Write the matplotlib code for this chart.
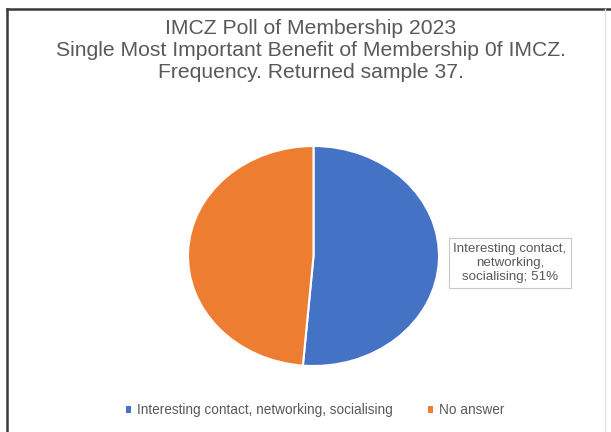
import matplotlib.pyplot as plt
from matplotlib.lines import Line2D
from matplotlib.patches import Patch

plt.rcParams['font.family'] = ['Liberation Sans', 'DejaVu Sans']

# Poll results (returned sample 37)
categories = ['Interesting contact, networking, socialising', 'No answer']
counts = [19, 18]
colors = ['#4472C4', '#ED7D31']
title_lines = ['IMCZ Poll of Membership 2023',
               'Single Most Important Benefit of Membership 0f IMCZ.',
               'Frequency. Returned sample 37.']

W, H = 611, 432
fig = plt.figure(figsize=(W / 100, H / 100), dpi=100)

# frame around the chart (left/top dark, right faint, bottom cropped)
fig.add_artist(Line2D([7 / W, 7 / W], [0, 1 - 9 / H], color='#3a3a3a', lw=1.8))
fig.add_artist(Line2D([7 / W, 1], [1 - 9 / H, 1 - 9 / H], color='#3a3a3a', lw=1.8))
fig.add_artist(Line2D([605 / W, 605 / W], [0, 1 - 9 / H], color='#e4e4e4', lw=1.0))

fig.text(311 / W, 1 - 19 / H, '\n'.join(title_lines), ha='center', va='top',
         fontsize=15.2, color='#595959', linespacing=1.2)

ax = fig.add_axes([188 / W, 66 / H, 251 / W, 220 / H])
wedges, _ = ax.pie(counts, colors=colors, startangle=90, counterclock=False,
                   wedgeprops=dict(edgecolor='white', linewidth=1.5))
ax.set_aspect('auto')
ax.set_xlim(-1.0, 1.0)
ax.set_ylim(-1.0, 1.0)
ax.axis('off')

pct = round(100 * counts[0] / sum(counts))
fig.text(510 / W, 1 - 263 / H, f'Interesting contact,\nnetworking,\nsocialising; {pct}%',
         ha='center', va='center', fontsize=9.6, color='#595959', linespacing=1.25,
         bbox=dict(boxstyle='square,pad=0.35', facecolor='white', edgecolor='#c8c8c8', linewidth=0.8))

handles = [Patch(facecolor=c, edgecolor='none') for c in colors]
fig.legend(handles, categories, loc='center', bbox_to_anchor=(315 / W, 1 - 410 / H),
           ncol=2, frameon=False, fontsize=9.8, labelcolor='#595959',
           handlelength=0.4, handleheight=0.4, handletextpad=0.4, columnspacing=2.6)

fig.savefig('out.png', dpi=100)
